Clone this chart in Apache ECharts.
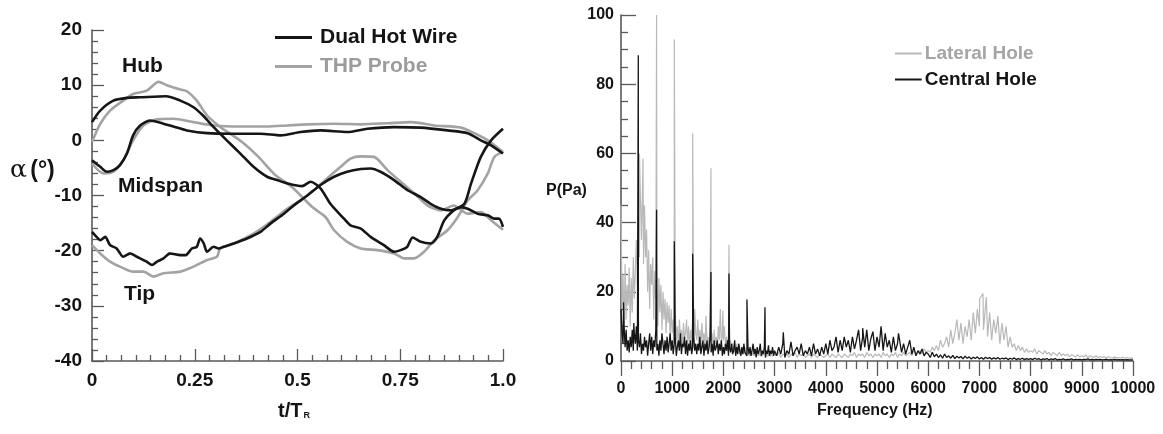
<!DOCTYPE html>
<html>
<head>
<meta charset="utf-8">
<script src="https://cdn.jsdelivr.net/npm/echarts@6/dist/echarts.min.js"></script>
<style>
html,body{margin:0;padding:0;background:#fff;}
#c{width:1163px;height:434px;}
</style>
</head>
<body>
<div id="c"></div>
<script>
// ---------- Left chart: flow angle vs t/T_R ----------
const hubWireT = [0,0.02,0.052,0.085,0.117,0.18,0.215,0.247,0.27,0.296,0.328,0.361,0.393,0.426,0.45,0.475,0.511,0.532,0.556,0.58,0.613,0.629,0.654,0.678,0.71,0.735,0.751,0.767,0.78,0.8,0.824,0.84,0.857,0.88,0.906,0.922,0.946,0.971,1.0];
const hubWire  = [3.3,5.4,7.2,7.7,7.8,8.0,7.2,6.0,4.5,2.4,0.0,-2.4,-4.8,-6.6,-7.2,-7.8,-8.3,-7.5,-8.7,-11.5,-14.2,-15.4,-16.0,-17.5,-19.0,-20.2,-19.9,-19.3,-17.6,-18.4,-18.7,-17.5,-14.5,-12.7,-11.5,-7.9,-3.0,0.0,2.1];

const hubProbeT = [0,0.02,0.044,0.076,0.1,0.133,0.162,0.182,0.215,0.231,0.255,0.28,0.312,0.324,0.365,0.405,0.446,0.487,0.536,0.568,0.589,0.621,0.654,0.694,0.735,0.76,0.784,0.808,0.833,0.865,0.89,0.914,0.938,0.963,0.979,1.0];
const hubProbe  = [-0.3,3.0,5.4,7.2,8.4,9.0,10.6,10.0,9.2,8.9,7.2,4.5,2.4,1.8,-0.3,-3.0,-6.3,-8.5,-12.1,-13.9,-16.3,-18.4,-19.6,-19.9,-20.5,-21.4,-21.4,-20.2,-18.1,-16.3,-13.9,-10.9,-9.1,-6.0,-3.0,-2.1];

const midWireT = [0,0.02,0.036,0.052,0.068,0.085,0.1,0.117,0.141,0.166,0.198,0.231,0.28,0.345,0.41,0.459,0.507,0.556,0.621,0.67,0.735,0.8,0.865,0.914,0.946,0.971,1.0];
const midWire  = [-3.6,-4.8,-5.7,-5.4,-4.5,-2.4,0.9,2.7,3.6,3.2,2.5,1.8,1.3,1.2,1.2,0.9,1.5,1.8,1.5,2.1,2.4,2.3,1.8,1.3,0.0,-0.9,-2.4];

const midProbeT = [0,0.028,0.052,0.076,0.1,0.125,0.158,0.198,0.247,0.296,0.361,0.426,0.475,0.524,0.589,0.654,0.719,0.776,0.833,0.898,0.93,0.963,1.0];
const midProbe  = [-4.2,-6.0,-5.7,-3.6,0.0,2.7,3.8,3.9,3.3,2.7,2.5,2.5,2.7,2.9,3.0,2.9,3.1,3.3,2.7,2.3,1.3,0.0,-2.1];

const tipWireT = [0,0.011,0.02,0.032,0.044,0.06,0.076,0.093,0.109,0.133,0.146,0.158,0.174,0.19,0.215,0.228,0.243,0.255,0.263,0.272,0.28,0.296,0.308,0.32,0.345,0.377,0.41,0.434,0.467,0.491,0.524,0.556,0.589,0.621,0.654,0.678,0.702,0.735,0.767,0.8,0.824,0.849,0.873,0.898,0.914,0.938,0.963,0.979,0.99,1.0];
const tipWire  = [-16.6,-17.5,-18.1,-17.5,-19.0,-19.6,-21.1,-20.5,-21.1,-22.0,-22.6,-22.0,-21.4,-20.5,-20.8,-20.8,-19.6,-19.3,-17.8,-18.7,-20.2,-19.3,-19.6,-19.3,-18.7,-17.8,-16.6,-15.1,-13.3,-11.8,-10.0,-8.1,-6.6,-5.7,-5.2,-5.1,-5.7,-7.2,-9.0,-10.3,-11.5,-12.4,-12.7,-12.1,-12.4,-13.3,-13.6,-14.2,-14.2,-15.7];

const tipProbeT = [0,0.02,0.044,0.068,0.1,0.125,0.15,0.174,0.215,0.247,0.28,0.304,0.312,0.345,0.393,0.434,0.475,0.507,0.54,0.572,0.605,0.629,0.654,0.686,0.719,0.751,0.784,0.816,0.849,0.88,0.914,0.946,0.971,1.0];
const tipProbe  = [-19.0,-20.5,-22.0,-22.9,-23.8,-23.8,-24.7,-24.1,-23.8,-22.9,-21.7,-21.1,-19.6,-18.7,-16.9,-14.8,-12.4,-10.9,-9.0,-6.9,-4.8,-3.3,-2.9,-3.0,-5.4,-7.5,-9.6,-11.8,-12.7,-11.8,-13.3,-13.0,-14.5,-16.2];

const leftXTicks = [0, 0.25, 0.5, 0.75, 1.0];
const leftXTickLabels = ['0', '0.25', '0.5', '0.75', '1.0'];

// ---------- Right chart: pressure spectrum ----------
// 0 - 2980 Hz, one sample every 20 Hz
const lowBandStep = 20;
const lateralLow = [
 45,15,25,8,28,12,22,16,27,10,24,14,30,18,26,35,22,40,30,47,35,50,28,45,30,
 38,20,32,15,28,22,30,12,26,18,27,10,24,14,22,9,20,12,18,8,17,11,16,7,15,
 8,12,5,14,6,10,4,12,7,9,4,11,6,8,12,5,10,4,9,6,13,5,15,8,6,
 12,5,9,4,11,6,8,3,13,5,7,4,10,6,8,3,9,5,7,4,10,6,15,5,8,
 6,10,4,7,3,8,4,6,3,5,2.5,4,2,5,3,4,2,3.5,2,3,2,4,2,3,2,
 2.5,1.5,3,2,2.5,1.5,3,2,2,1.5,2.5,1.5,2,1.5,3,2,2.5,1.5,2,1.5,2.5,1.5,2,1.5,2
];
const centralLow = [
 15,8,5,10,4,9,3,6,2.5,7,4,9,3,8,5,10,3,6,4,8,2,5,3,7,4,
 6,1.5,5,8,3,7,2,6,4,9,3,5,1.5,6,3,8,5,2,6,3,7,2.5,5,8,3,
 6,2,5,7,1.5,4,6,3,8,2,5,4,7,2,6,1.5,5,3,6,2,4,7,3,5,2,
 5,3,7,2,4,6,1.5,5,3,6,2,4,7,2.5,5,1.5,6,3,4,6,2,5,3,6,1.5,
 4,2,5,3,6,1.5,4,2.5,5,2,3,6,1.5,4,2,5,3,1.5,4,2,5,2.5,3,1.5,4,
 2,4,1.5,3,5,2,3.5,1,4,2,3,5,1.5,3,2,4,1,3,2,4.5,1.5,3,2,4,1.5
];
// 3000 - 10000 Hz, one sample every 40 Hz
const highBandStart = 3000, highBandStep = 40;
const lateralHigh = [
 2,1.5,2.5,1,2,1.5,2,1,2,1.5,2.5,1,2,1.5,2,1,1.5,2,1,2,1.5,1,2,1.5,1,
 1.5,2,1,2,1.5,1,2,1.5,1,2,1.5,1,2,1.5,2.5,1,2,1.5,2,1,2.5,1.5,2,1,2,
 1.5,2,1,2.5,1.5,2,1,2,1.5,2.5,1,2,1.5,2.5,1.5,2,2.5,1.5,3,2,2.5,3,2,3.5,2.5,
 3,2.5,4,3,4.5,3,6,4,5,7,4,9,5,8,12,6,11,5,10,7,12,6,14,8,15,
 10,18,9,16,7,14,6,12,8,13,5,11,6,10,4,7,4,5,3,4.5,3,4,2.5,3.5,2.5,
 3,2.5,3.5,2,3,2.5,2,3,2,2.5,1.5,2.5,2,1.5,2.5,1.5,2,1.5,2,1.2,1.8,1.5,1.2,1.8,1.2,
 1.5,1.2,1.8,1,1.5,1.2,1,1.5,1,1.3,1,1.2,0.8,1.3,1,0.8,1.2,0.9,1,0.8,1.1,0.8,1,0.8,0.9,
 0.8
];
const centralHigh = [
 3,1.5,4,2,5,1,3,2,5.5,1.5,3,4,2,5,1.5,3,2,4,1.5,5,2,3.5,1.5,4,2,
 5,2,6,3,4,7,2.5,6,3,7,4,6,2.5,7,3.5,6,9,3,7,4,9,3,6.5,8.5,3,
 7,4,10,3,8,4,6,2.5,7,3,5,8,2.5,5,2,4,6,2,4,1.5,3,2,3.5,1.5,2.5,
 2,1,2.5,1.2,2,1,1.8,0.8,2,1,1.5,0.8,1.6,0.7,1.4,0.9,1.3,0.6,1.4,0.8,1.2,0.6,1.1,0.7,1.2,
 0.6,1,0.5,1.1,0.7,1,0.5,0.9,0.6,1,0.5,0.8,0.6,0.9,0.4,0.8,0.5,0.9,0.4,0.7,0.5,0.8,0.4,0.7,0.5,
 0.7,0.4,0.8,0.5,0.7,0.3,0.6,0.5,0.7,0.3,0.6,0.4,0.7,0.3,0.5,0.4,0.6,0.3,0.5,0.4,0.6,0.3,0.5,0.4,0.5,
 0.3,0.5,0.4,0.6,0.3,0.5,0.3,0.5,0.4,0.5,0.3,0.4,0.5,0.3,0.4,0.3,0.5,0.3,0.4,0.3,0.4,0.3,0.4,0.3,0.3,
 0.3
];
// narrow tonal peaks [frequency Hz, amplitude Pa]
const lateralPeaks = [[10,45],[360,60],[430,58.5],[695,100],[1041,92.9],[1400,65.8],[1757,55.7],[1990,14.6],[2109,33.6],[7005,18],[7070,19.5],[7135,18.5]];
const centralPeaks = [[50,17],[250,11],[338,88.4],[695,43.7],[1041,34.6],[1400,31],[1757,25.7],[2109,25.3],[2460,17.8],[2812,15.5],[3170,8.3],[4720,9.5],[5110,10.5],[5420,8]];

// ---------- build ----------
const FONT = '"Liberation Sans", Arial, Helvetica, sans-serif';
const BLACK = '#161616', GREY = '#a3a3a3', LGREY = '#b9b9b9';
const zip = (xs, ys) => xs.map((x, i) => [x, ys[i]]);
function spectrum(low, high, peaks) {
  const pts = low.map((v, i) => [i * lowBandStep, v])
    .concat(high.map((v, i) => [highBandStart + i * highBandStep, v]))
    .concat(peaks.map(p => [p[0], p[1]]));
  pts.sort((a, b) => a[0] - b[0]);
  return pts;
}

const chart = echarts.init(document.getElementById('c'), null, {renderer: 'canvas', width: 1163, height: 434});

function leftLine(name, data, color) {
  return {name, type: 'line', xAxisIndex: 0, yAxisIndex: 0, data, symbol: 'none', smooth: 0.25,
    lineStyle: {color, width: 2.6}, itemStyle: {color}, z: color === BLACK ? 3 : 2, silent: true, animation: false};
}

const axisLineStyle = {color: '#5a5a5a', width: 1.6};
const tickStyle = {color: '#5a5a5a', width: 1.3};
const lineIcon = 'path://M0,0 L40,0 L40,3 L0,3 Z';

const option = {
  animation: false,
  backgroundColor: '#ffffff',
  grid: [
    {left: 92, top: 30, width: 411, height: 331, containLabel: false},
    {left: 621, top: 15, width: 512, height: 346, containLabel: false}
  ],
  xAxis: [
    {gridIndex: 0, type: 'value', min: 0, max: 1, interval: 0.25,
      axisLine: {onZero: false, lineStyle: axisLineStyle},
      axisTick: {inside: true, length: 12, lineStyle: tickStyle},
      minorTick: {show: true, splitNumber: 7, length: 6, lineStyle: tickStyle},
      splitLine: {show: false},
      axisLabel: {margin: 10, fontFamily: FONT, fontWeight: 'bold', fontSize: 19, color: '#141414',
        formatter: v => { const k = leftXTicks.indexOf(v); return k >= 0 ? leftXTickLabels[k] : ''; }}},
    {gridIndex: 1, type: 'value', min: 0, max: 10000, interval: 1000,
      axisLine: {onZero: false, lineStyle: axisLineStyle},
      axisTick: {inside: false, length: 15, lineStyle: tickStyle},
      minorTick: {show: true, splitNumber: 5, length: 8, lineStyle: tickStyle},
      splitLine: {show: false},
      axisLabel: {margin: 20, fontFamily: FONT, fontWeight: 'bold', fontSize: 16, color: '#141414',
        formatter: v => String(v)}}
  ],
  yAxis: [
    {gridIndex: 0, type: 'value', min: -40, max: 20, interval: 10,
      axisLine: {show: true, onZero: false, lineStyle: axisLineStyle},
      axisTick: {show: true, inside: true, length: 12, lineStyle: tickStyle},
      minorTick: {show: true, splitNumber: 5, length: 6, lineStyle: tickStyle},
      splitLine: {show: false},
      axisLabel: {margin: 10, fontFamily: FONT, fontWeight: 'bold', fontSize: 19, color: '#141414'}},
    {gridIndex: 1, type: 'value', min: 0, max: 100, interval: 20,
      axisLine: {show: true, onZero: false, lineStyle: axisLineStyle},
      axisTick: {show: true, inside: true, length: 15, lineStyle: tickStyle},
      minorTick: {show: true, splitNumber: 4, length: 7, lineStyle: tickStyle},
      splitLine: {show: false},
      axisLabel: {margin: 7, fontFamily: FONT, fontWeight: 'bold', fontSize: 16, color: '#141414'}}
  ],
  legend: [
    {selectedMode: false, orient: 'vertical', left: 270, top: 22, itemWidth: 37, itemHeight: 3, itemGap: 8,
      icon: lineIcon,
      textStyle: {fontFamily: FONT, fontWeight: 'bold', fontSize: 21, padding: [0, 0, 0, 3]},
      data: [{name: 'Dual Hot Wire', textStyle: {color: '#141414'}}, {name: 'THP Probe', textStyle: {color: '#9c9c9c'}}]},
    {selectedMode: false, orient: 'vertical', left: 890, top: 39, itemWidth: 31, itemHeight: 2, itemGap: 7,
      icon: lineIcon,
      textStyle: {fontFamily: FONT, fontWeight: 'bold', fontSize: 19, padding: [0, 0, 0, -4]},
      data: [{name: 'Lateral Hole', textStyle: {color: '#a5a5a5'}}, {name: 'Central Hole', textStyle: {color: '#141414'}}]}
  ],
  series: [
    leftLine('THP Probe', zip(hubProbeT, hubProbe), GREY),
    leftLine('THP Probe', zip(midProbeT, midProbe), GREY),
    leftLine('THP Probe', zip(tipProbeT, tipProbe), GREY),
    leftLine('Dual Hot Wire', zip(hubWireT, hubWire), BLACK),
    leftLine('Dual Hot Wire', zip(midWireT, midWire), BLACK),
    leftLine('Dual Hot Wire', zip(tipWireT, tipWire), BLACK),
    {name: 'Lateral Hole', type: 'line', xAxisIndex: 1, yAxisIndex: 1, data: spectrum(lateralLow, lateralHigh, lateralPeaks),
      symbol: 'none', lineStyle: {color: LGREY, width: 1.2}, itemStyle: {color: LGREY}, silent: true},
    {name: 'Central Hole', type: 'line', xAxisIndex: 1, yAxisIndex: 1, data: spectrum(centralLow, centralHigh, centralPeaks),
      symbol: 'none', lineStyle: {color: BLACK, width: 1.3}, itemStyle: {color: BLACK}, silent: true}
  ],
  graphic: [
    {type: 'text', left: 122, top: 56, style: {text: 'Hub', font: 'bold 21px ' + FONT, fill: '#141414'}},
    {type: 'text', left: 118, top: 176, style: {text: 'Midspan', font: 'bold 21px ' + FONT, fill: '#141414'}},
    {type: 'text', left: 124, top: 284, style: {text: 'Tip', font: 'bold 21px ' + FONT, fill: '#141414'}},
    {type: 'text', left: 10, top: 158, style: {
      text: '{a|α} {b|(°)}',
      rich: {a: {fontFamily: '"DejaVu Serif", "Liberation Serif", serif', fontSize: 25, fill: '#141414'},
             b: {fontFamily: FONT, fontWeight: 'bold', fontSize: 23, fill: '#141414'}}}},
    {type: 'text', left: 278, top: 401, style: {
      text: '{a|t/T}{r|R}',
      rich: {a: {fontFamily: FONT, fontWeight: 'bold', fontSize: 20, fill: '#141414'},
             r: {fontFamily: FONT, fontWeight: 'bold', fontSize: 9, fill: '#141414', padding: [10, 0, 0, 1]}}}},
    {type: 'text', left: 546, top: 183, style: {text: 'P(Pa)', font: 'bold 16px ' + FONT, fill: '#141414'}},
    {type: 'text', left: 817, top: 403, style: {text: 'Frequency (Hz)', font: 'bold 16px ' + FONT, fill: '#141414'}}
  ]
};
chart.setOption(option);
</script>
</body>
</html>
